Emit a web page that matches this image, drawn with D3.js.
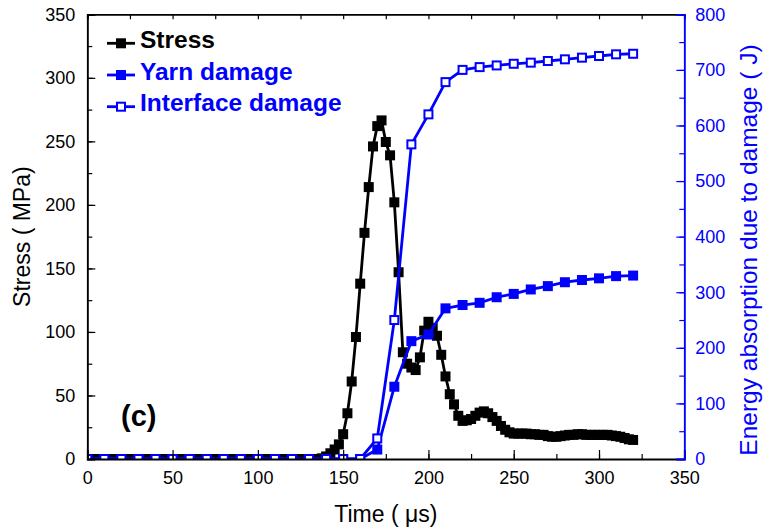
<!DOCTYPE html>
<html>
<head>
<meta charset="utf-8">
<script src="https://cdn.jsdelivr.net/npm/d3@7"></script>
<style>
  body { margin: 0; background: #fff; }
  svg { display: block; font-family: "Liberation Sans", Arial, sans-serif; }
</style>
</head>
<body>
<svg id="chart" width="763" height="531"></svg>
<script>
// Stress history, sampled every 2.5 μs
const stressTime = [
  0, 2.5, 5, 7.5, 10, 12.5, 15, 17.5, 20, 22.5, 25, 27.5, 30, 32.5, 35, 37.5, 40, 42.5, 45, 47.5,
  50, 52.5, 55, 57.5, 60, 62.5, 65, 67.5, 70, 72.5, 75, 77.5, 80, 82.5, 85, 87.5, 90, 92.5, 95, 97.5,
  100, 102.5, 105, 107.5, 110, 112.5, 115, 117.5, 120, 122.5, 125, 127.5, 130, 132.5, 135, 137.5,
  140, 142.5, 145, 147.5, 150, 152.5, 155, 157.5, 160, 162.5, 165, 167.5, 170, 172.5, 175, 177.5,
  180, 182.5, 185, 187.5, 190, 192.5, 195, 197.5, 200, 202.5, 205, 207.5, 210, 212.5, 215, 217.5,
  220, 222.5, 225, 227.5, 230, 232.5, 235, 237.5, 240, 242.5, 245, 247.5, 250, 252.5, 255, 257.5,
  260, 262.5, 265, 267.5, 270, 272.5, 275, 277.5, 280, 282.5, 285, 287.5, 290, 292.5, 295, 297.5,
  300, 302.5, 305, 307.5, 310, 312.5, 315, 317.5, 320
];
const stressMPa = [
  0, 0, 0, 0, 0, 0, 0, 0, 0, 0, 0, 0, 0, 0, 0, 0, 0, 0, 0, 0,
  0, 0, 0, 0, 0, 0, 0, 0, 0, 0, 0, 0, 0, 0, 0, 0, 0, 0, 0, 0,
  0, 0, 0, 0, 0, 0, 0, 0, 0, 0, 0, 0, 0, 0, 0, 0.5,
  2, 4.5, 7.5, 11.5, 19.5, 36, 61, 96, 138, 178, 214, 246, 262, 266.5, 249.5, 239,
  202, 147, 84, 75, 72, 70, 80, 101, 108, 103, 97, 82, 65, 51, 43, 34,
  30, 30.5, 31.5, 34, 36.5, 37.5, 36, 33, 30, 26, 23, 21, 20, 20, 20, 20,
  19.5, 19.5, 19, 19, 18, 17.5, 17.5, 18, 18.5, 19, 19, 19.5, 19.5, 19, 19, 19,
  19, 19, 19, 18.5, 18, 17.5, 16.5, 15.5, 15
];

// Energy absorbed by damage, sampled every 10 μs
const energyTime = [
  0, 10, 20, 30, 40, 50, 60, 70, 80, 90, 100, 110, 120, 130, 140, 150, 160,
  170, 180, 190, 200, 210, 220, 230, 240, 250, 260, 270, 280, 290, 300, 310, 320
];
const yarnDamage = [
  0, 0, 0, 0, 0, 0, 0, 0, 0, 0, 0, 0, 0, 0, 0, 0, 0,
  17, 130, 212, 224, 271, 277, 281, 291, 297, 305, 311, 318, 322, 325, 329, 330
];
const interfaceDamage = [
  0, 0, 0, 0, 0, 0, 0, 0, 0, 0, 0, 0, 0, 0, 0, 0, 0,
  37, 250, 566, 620, 678, 700, 705, 708, 711, 713, 716, 719, 722, 725, 728, 729
];

// Axis ticks
const xTicks = [0, 50, 100, 150, 200, 250, 300, 350];
const stressTicks = [0, 50, 100, 150, 200, 250, 300, 350];
const energyTicks = [0, 100, 200, 300, 400, 500, 600, 700, 800];

const legendLabels = ["Stress", "Yarn damage", "Interface damage"];

const BLUE = "#0000ff";
const FONT = "Liberation Sans, Arial, sans-serif";
const svg = d3.select("#chart");
const L = 87.3, T = 14.3, R = 684.3, B = 459;

const x = d3.scaleLinear().domain([0, 350]).range([L, R]);
const yS = d3.scaleLinear().domain([0, 350]).range([B, T]);
const yE = d3.scaleLinear().domain([0, 800]).range([B, T]);

svg.append("defs").append("clipPath").attr("id", "plotClip")
  .append("rect").attr("x", L).attr("y", T).attr("width", R - L).attr("height", B - T);

const plot = svg.append("g").attr("clip-path", "url(#plotClip)");

function drawSeries(times, values, yScale, color, width, filled, size) {
  const pts = times.map((t, i) => [t, values[i]]);
  const line = d3.line().x(d => x(d[0])).y(d => yScale(d[1]));
  plot.append("path").datum(pts)
    .attr("d", line).attr("fill", "none")
    .attr("stroke", color).attr("stroke-width", width)
    .attr("stroke-linejoin", "round");
  const sw = filled ? 0 : 2;
  const s = filled ? size : size - sw;
  plot.append("g").selectAll("rect").data(pts).join("rect")
    .attr("x", d => x(d[0]) - s / 2)
    .attr("y", d => yScale(d[1]) - s / 2)
    .attr("width", s).attr("height", s)
    .attr("fill", filled ? color : "#fff")
    .attr("stroke", filled ? "none" : color)
    .attr("stroke-width", sw);
}

drawSeries(stressTime, stressMPa, yS, "#000", 2.8, true, 10);
drawSeries(energyTime, yarnDamage, yE, BLUE, 2.8, true, 10);
drawSeries(energyTime, interfaceDamage, yE, BLUE, 2.8, false, 10);

// Axes (ticks point inward)
const minorX = d3.range(0, 351, 25);
svg.append("g").attr("transform", `translate(0,${B})`)
  .call(d3.axisBottom(x).tickValues(minorX).tickSize(-5).tickFormat(""))
  .call(g => g.selectAll(".tick line").attr("stroke", "#000").attr("stroke-width", 1.2));
svg.append("g").attr("transform", `translate(0,${B})`)
  .call(d3.axisBottom(x).tickValues(xTicks).tickSize(-9).tickPadding(12).tickFormat(d3.format("d")))
  .call(g => g.select(".domain").attr("stroke", "#000").attr("stroke-width", 1.8))
  .call(g => g.selectAll(".tick line").attr("stroke-width", 1.2))
  .call(g => g.selectAll("text").attr("font-size", 18).attr("fill", "#000").attr("font-family", FONT));

svg.append("g").attr("transform", `translate(0,${T})`)
  .call(d3.axisTop(x).tickValues(minorX).tickSize(-5).tickFormat(""))
  .call(g => g.select(".domain").attr("stroke", "#000").attr("stroke-width", 1.8))
  .call(g => g.selectAll(".tick line").attr("stroke-width", 1.2));

const minorS = d3.range(0, 351, 25);
svg.append("g").attr("transform", `translate(${L},0)`)
  .call(d3.axisLeft(yS).tickValues(minorS).tickSize(-5).tickFormat(""))
  .call(g => g.selectAll(".tick line").attr("stroke-width", 1.2));
svg.append("g").attr("transform", `translate(${L},0)`)
  .call(d3.axisLeft(yS).tickValues(stressTicks).tickSize(-8).tickPadding(12).tickFormat(d3.format("d")))
  .call(g => g.select(".domain").attr("stroke", "#000").attr("stroke-width", 1.8))
  .call(g => g.selectAll(".tick line").attr("stroke-width", 1.2))
  .call(g => g.selectAll("text").attr("font-size", 18).attr("fill", "#000").attr("font-family", FONT));

const minorE = d3.range(0, 801, 50);
svg.append("g").attr("transform", `translate(${R},0)`)
  .call(d3.axisRight(yE).tickValues(minorE).tickSize(-5).tickFormat(""))
  .call(g => g.selectAll(".tick line").attr("stroke", BLUE).attr("stroke-width", 1.2))
  .call(g => g.select(".domain").attr("stroke", BLUE));
svg.append("g").attr("transform", `translate(${R},0)`)
  .call(d3.axisRight(yE).tickValues(energyTicks).tickSize(-8).tickPadding(11).tickFormat(d3.format("d")))
  .call(g => g.select(".domain").attr("stroke", BLUE).attr("stroke-width", 1.8))
  .call(g => g.selectAll(".tick line").attr("stroke", BLUE).attr("stroke-width", 1.2))
  .call(g => g.selectAll("text").attr("font-size", 18).attr("fill", BLUE).attr("font-family", FONT));

// Axis titles
svg.append("text").attr("x", (L + R) / 2).attr("y", 522)
  .attr("text-anchor", "middle").attr("font-size", 23).attr("fill", "#000")
  .text("Time ( μs)");
svg.append("text")
  .attr("transform", `translate(30,${(T + B) / 2}) rotate(-90)`)
  .attr("text-anchor", "middle").attr("font-size", 23).attr("fill", "#000")
  .text("Stress ( MPa)");
svg.append("text")
  .attr("transform", `translate(757,250) rotate(-90)`)
  .attr("text-anchor", "middle").attr("font-size", 24.5).attr("fill", BLUE)
  .text("Energy absorption due to damage ( J)");

// Panel label
svg.append("text").attr("x", 121).attr("y", 426)
  .attr("font-size", 29).attr("font-weight", "bold").attr("fill", "#000")
  .text("(c)");

// Legend
const legendStyles = [
  { color: "#000", filled: true },
  { color: BLUE, filled: true },
  { color: BLUE, filled: false }
];
const legend = svg.append("g");
legendLabels.forEach((label, i) => {
  const cy = 43.3 + i * 31.7;
  const st = legendStyles[i];
  legend.append("line").attr("x1", 107).attr("x2", 135).attr("y1", cy).attr("y2", cy)
    .attr("stroke", st.color).attr("stroke-width", 2.8);
  const s = st.filled ? 10 : 8;
  legend.append("rect").attr("x", 121 - s / 2).attr("y", cy - s / 2)
    .attr("width", s).attr("height", s)
    .attr("fill", st.filled ? st.color : "#fff")
    .attr("stroke", st.filled ? "none" : st.color).attr("stroke-width", 2);
  legend.append("text").attr("x", 140).attr("y", cy + 4.5)
    .attr("font-size", 24.5).attr("font-weight", "bold").attr("fill", st.color)
    .text(label);
});
</script>
</body>
</html>
